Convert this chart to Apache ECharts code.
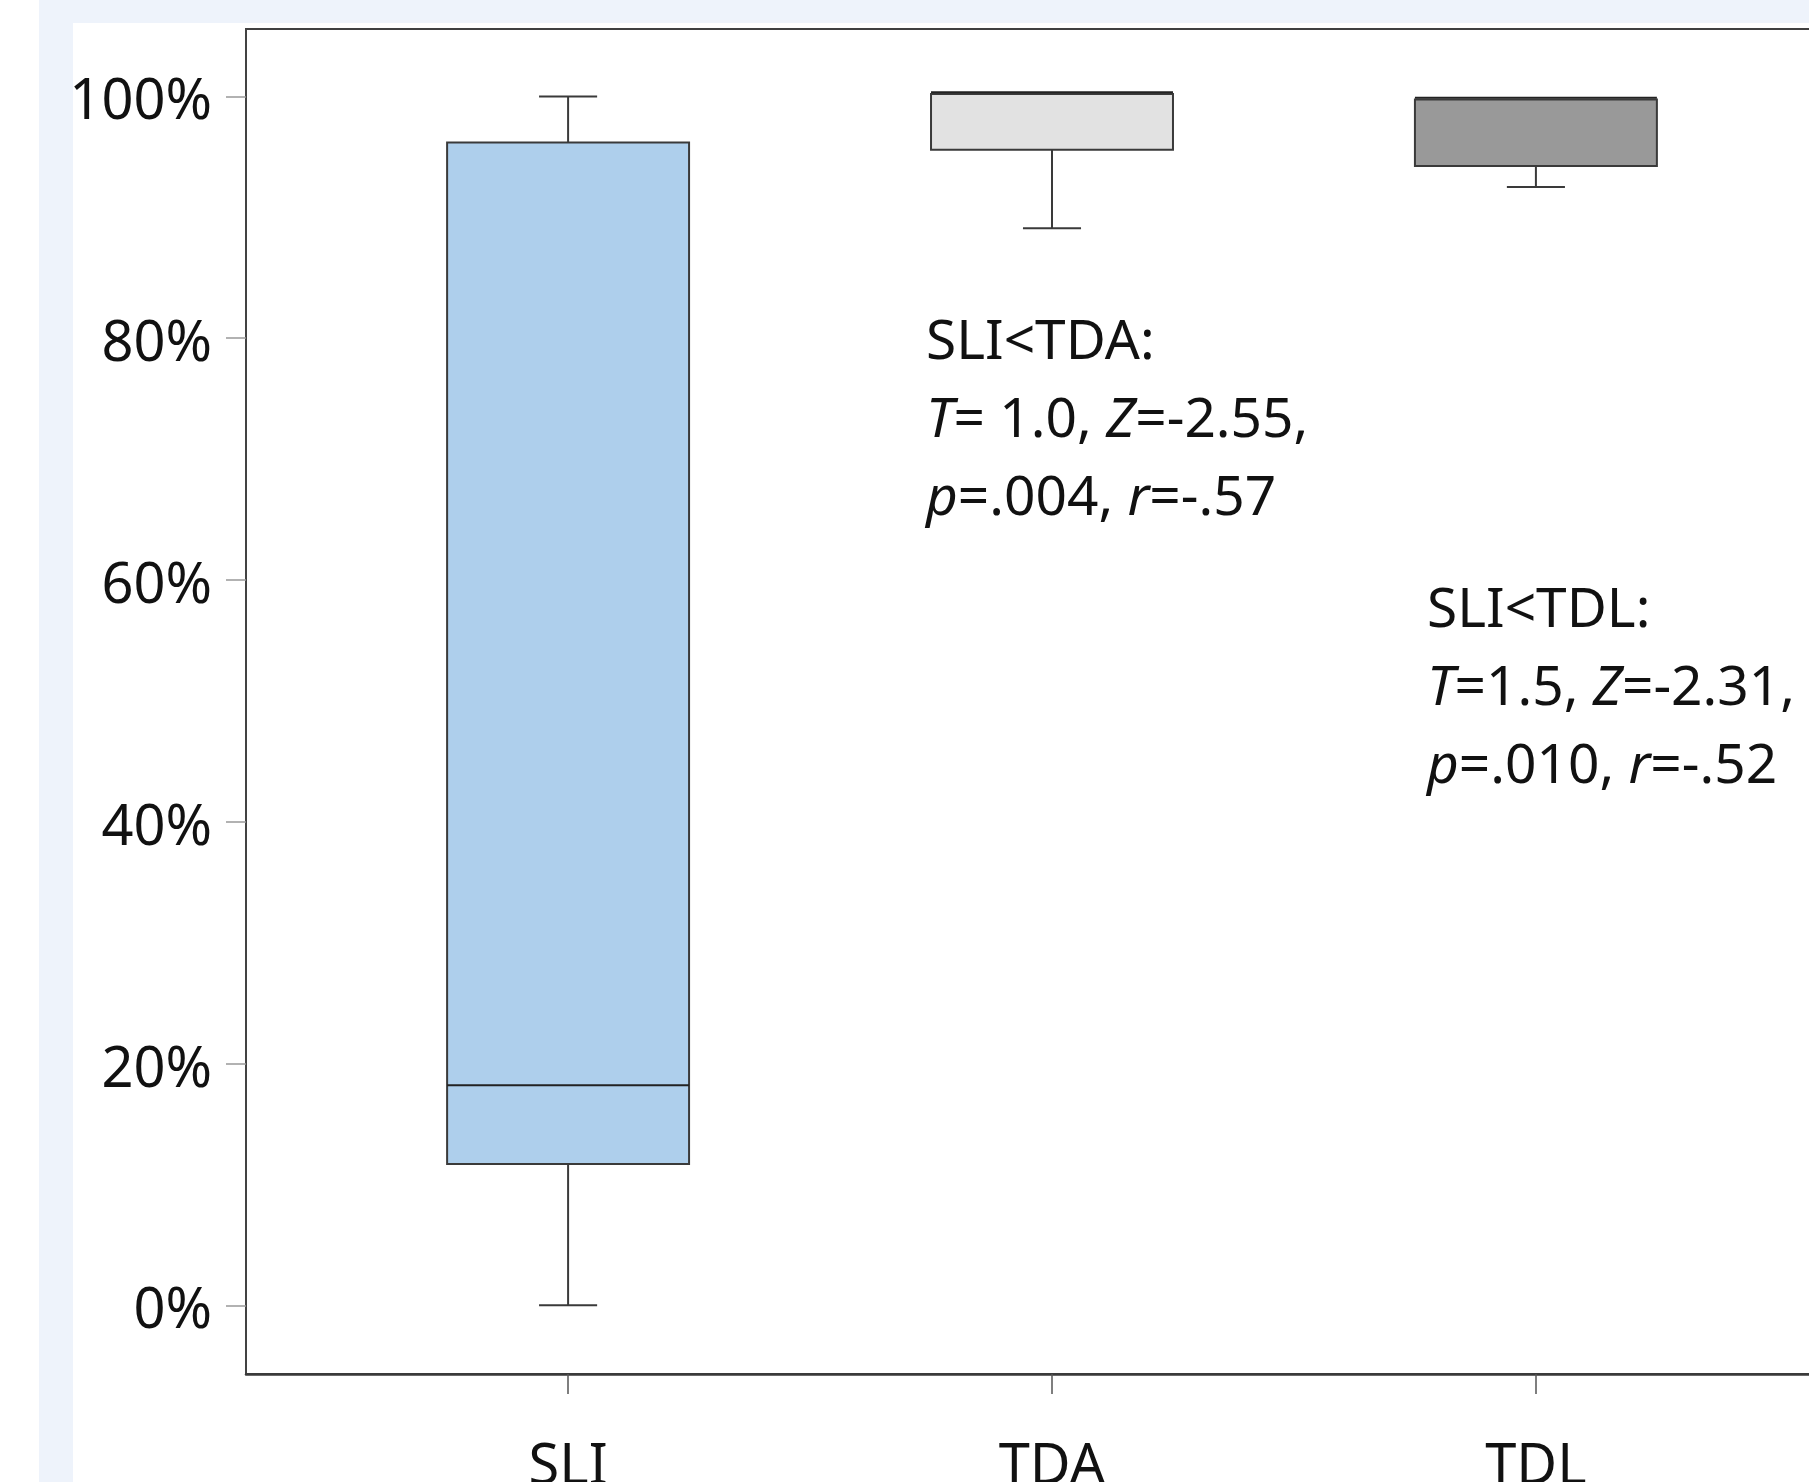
<!DOCTYPE html>
<html>
<head>
<meta charset="utf-8">
<script src="https://cdn.jsdelivr.net/npm/echarts@6/dist/echarts.min.js"></script>
<style>
  html, body { margin: 0; padding: 0; width: 1809px; height: 1482px; overflow: hidden; background: #ffffff; }
  #band { position: absolute; left: 39px; top: 0; width: 1770px; bottom: 0; background: #eef3fb; }
  #chart { position: absolute; left: 73px; top: 23px; width: 1785px; height: 1459px; background: #ffffff; }
</style>
</head>
<body>
<div id="band"></div>
<div id="chart"></div>
<script>
// ---- data ----
const categories = ['SLI', 'TDA', 'TDL'];
const mins    = [0,     89.1,  92.5];
const q1s     = [11.7,  95.6,  94.25];
const medians = [18.2,  100.35, 99.9];
const q3s     = [96.2,  100.2, 99.75];
const maxs    = [100.0, 100.2, 99.75];
const yTicks  = [0, 20, 40, 60, 80, 100];
const annotations = [
  ['SLI<TDA:', '{i|T}{n|= 1.0, }{i|Z}{n|=-2.55,}', '{i|p}{n|=.004, }{i|r}{n|=-.57}'],
  ['SLI<TDL:', '{i|T}{n|=1.5, }{i|Z}{n|=-2.31,}', '{i|p}{n|=.010, }{i|r}{n|=-.52}']
];

// ---- styles ----
const boxColors = ['#aecfec', '#e2e2e2', '#999999'];
const FONT = 'Noto Sans';
const ANN_SIZE = 55;

const boxData = categories.map((c, i) => [i, mins[i], q1s[i], medians[i], q3s[i], maxs[i]]);

const chart = echarts.init(document.getElementById('chart'), null, { renderer: 'canvas' });

function renderBox(params, api) {
  const x = api.value(0);
  const half = 0.25, cap = 0.06;
  const idx = params.dataIndex;
  const pMin = api.coord([x, api.value(1)]);
  const pQ1 = api.coord([x, api.value(2)]);
  const pMed = api.coord([x, api.value(3)]);
  const pQ3 = api.coord([x, api.value(4)]);
  const pMax = api.coord([x, api.value(5)]);
  const xl = api.coord([x - half, 0])[0];
  const xr = api.coord([x + half, 0])[0];
  const cl = api.coord([x - cap, 0])[0];
  const cr = api.coord([x + cap, 0])[0];
  const lineStyle = { stroke: '#3a3a3a', lineWidth: 2 };
  const children = [];
  if (pMax[1] < pQ3[1] - 0.5) {
    children.push({ type: 'line', shape: { x1: pMax[0], y1: pMax[1], x2: pQ3[0], y2: pQ3[1] }, style: lineStyle });
    children.push({ type: 'line', shape: { x1: cl, y1: pMax[1], x2: cr, y2: pMax[1] }, style: lineStyle });
  }
  if (pMin[1] > pQ1[1] + 0.5) {
    children.push({ type: 'line', shape: { x1: pMin[0], y1: pMin[1], x2: pQ1[0], y2: pQ1[1] }, style: lineStyle });
    children.push({ type: 'line', shape: { x1: cl, y1: pMin[1], x2: cr, y2: pMin[1] }, style: lineStyle });
  }
  children.push({
    type: 'rect',
    shape: { x: xl, y: pQ3[1], width: xr - xl, height: pQ1[1] - pQ3[1] },
    style: { fill: boxColors[idx], stroke: '#3a3a3a', lineWidth: 2 }
  });
  children.push({ type: 'line', shape: { x1: xl, y1: pMed[1], x2: xr, y2: pMed[1] }, style: { stroke: '#222', lineWidth: 2 } });
  return { type: 'group', children };
}

const graphics = [];
const annLeft = [853, 1354];
const annTop = [293, 561];
annotations.forEach((lines, a) => {
  graphics.push({
    type: 'text',
    left: annLeft[a],
    top: annTop[a],
    style: {
      text: lines.map((l, k) => k === 0 ? '{n|' + l + '}' : l).join('\n'),
      fill: '#111',
      font: ANN_SIZE + 'px "' + FONT + '"',
      rich: {
        n: { fontSize: ANN_SIZE, fontFamily: FONT, fill: '#111', lineHeight: 78 },
        i: { fontSize: ANN_SIZE, fontFamily: FONT, fontStyle: 'italic', fill: '#111', lineHeight: 78 }
      }
    }
  });
});

chart.setOption({
  animation: false,
  backgroundColor: '#ffffff',
  grid: {
    left: 173, top: 6, right: 0, bottom: 108,
    outerBoundsMode: 'none',
    containLabel: false,
    show: true, borderColor: '#404040', borderWidth: 2, backgroundColor: '#ffffff'
  },
  xAxis: {
    type: 'value',
    min: -0.6656, max: 2.6656,
    axisLine: { show: true, onZero: false, lineStyle: { color: '#3a3a3a', width: 2.5 } },
    axisTick: { show: true, customValues: [0, 1, 2], length: 20, lineStyle: { color: '#555', width: 1.5 } },
    axisLabel: {
      customValues: [0, 1, 2],
      formatter: v => categories[Math.round(v)] || '',
      fontSize: 56, fontFamily: FONT, color: '#111', margin: 66
    },
    splitLine: { show: false }
  },
  yAxis: {
    type: 'value',
    min: -5.68, max: 105.58,
    axisLine: { show: true, onZero: false, lineStyle: { color: '#444', width: 1.5 } },
    axisTick: { show: true, customValues: yTicks, length: 20, lineStyle: { color: '#999', width: 1.5 } },
    axisLabel: {
      customValues: yTicks,
      formatter: v => '{a|' + v + '%}',
      margin: 34,
      rich: { a: { fontSize: 56, fontFamily: FONT, color: '#111', padding: [14, 0, 0, 0] } }
    },
    splitLine: { show: false }
  },
  series: [{
    type: 'custom',
    renderItem: renderBox,
    encode: { x: 0, y: [1, 2, 3, 4, 5] },
    data: boxData,
    clip: false
  }],
  graphic: graphics
});
</script>
</body>
</html>
